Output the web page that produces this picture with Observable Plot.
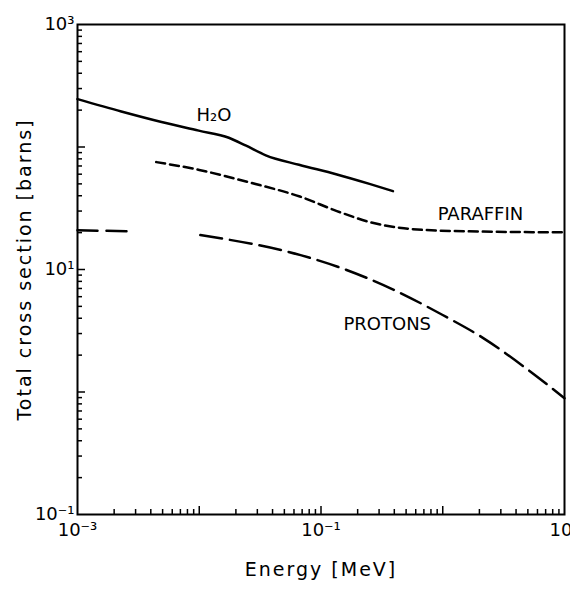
<!DOCTYPE html>
<html>
<head>
<meta charset="utf-8">
<script src="https://cdn.jsdelivr.net/npm/d3@7"></script>
<script src="https://cdn.jsdelivr.net/npm/@observablehq/plot@0.6"></script>
<style>
  html, body { margin: 0; padding: 0; background: #fff; }
  #chart { width: 570px; height: 591px; }
</style>
</head>
<body>
<div id="chart"></div>
<script>
// Energy [MeV] and total cross section [barns]
const h2oE = [0.001, 0.00229, 0.0049, 0.0099, 0.0175, 0.024, 0.0352, 0.066, 0.133, 0.25, 0.39];
const h2oS = [246, 195, 160, 136, 119, 103, 85.5, 71.6, 60, 50, 43.6];

const paraffinE = [0.00443, 0.01, 0.0258, 0.067, 0.135, 0.255, 0.48, 1.24, 10];
const paraffinS = [75.3, 65, 51.4, 39.4, 30, 24.3, 21.7, 20.6, 20.1];

const protonsLowE = [0.001, 0.0027];
const protonsLowS = [20.9, 20.5];
const protonsHighE = [0.0102, 0.068, 0.146, 0.38, 0.99, 2.12, 4.88, 10];
const protonsHighS = [19.1, 13.1, 10.3, 6.96, 4.27, 2.78, 1.55, 0.89];

const xTickValues = [0.001, 0.1, 10];
const yTickValues = [1000, 10, 0.1];
const superscripts = {"-": "\u207B", "0": "\u2070", "1": "\u00B9", "2": "\u00B2", "3": "\u00B3"};
const powerLabel = v => "10" + String(Math.round(Math.log10(v))).split("").map(c => superscripts[c]).join("");

const curveLabels = ["H\u2082O", "PARAFFIN", "PROTONS"];
const curveLabelE = [0.0132, 2.04, 0.35];
const curveLabelS = [180, 28, 3.55];

const decades = [0.001, 0.01, 0.1, 1, 10, 100];
const minorOf = (lo, hi) => decades.flatMap(d => [2,3,4,5,6,7,8,9].map(m => d * m)).filter(v => v > lo && v < hi);
const xMinor = minorOf(0.001, 10);
const xMajor = [0.01, 0.1, 1];
const yMinor = minorOf(0.1, 1000);
const yMajor = [1, 10, 100];

const toRows = (E, S) => E.map((e, i) => ({e, s: S[i]}));
const h2o = toRows(h2oE, h2oS);
const paraffin = toRows(paraffinE, paraffinS);
const protonsLow = toRows(protonsLowE, protonsLowS);
const protonsHigh = toRows(protonsHighE, protonsHighS);
const labels = curveLabels.map((t, i) => ({t, e: curveLabelE[i], s: curveLabelS[i]}));

const xTitle = "Energy [MeV]";
const yTitle = "Total cross section [barns]";

const font = "'DejaVu Sans', sans-serif";
const W = 570, H = 591, mL = 77, mR = 6, mT = 24, mB = 77;
const plotW = W - mL - mR, plotH = H - mT - mB;

const chart = Plot.plot({
  width: W,
  height: H,
  marginLeft: mL,
  marginRight: mR,
  marginTop: mT,
  marginBottom: mB,
  style: {fontFamily: font, background: "#fff"},
  x: {type: "log", domain: [0.001, 10]},
  y: {type: "log", domain: [0.1, 1000]},
  marks: [
    Plot.frame({stroke: "black", strokeWidth: 2}),
    Plot.tickX(xMinor, {x: d => d, insetTop: plotH - 5, stroke: "black", strokeWidth: 1.5}),
    Plot.tickX(xMajor, {x: d => d, insetTop: plotH - 8, stroke: "black", strokeWidth: 1.5}),
    Plot.tickY(yMinor, {y: d => d, insetRight: plotW - 5, stroke: "black", strokeWidth: 1.5}),
    Plot.tickY(yMajor, {y: d => d, insetRight: plotW - 8, stroke: "black", strokeWidth: 1.5}),
    Plot.axisX({ticks: xTickValues, tickSize: 0, tickPadding: 9, tickFormat: powerLabel, fontSize: 18, label: null}),
    Plot.axisY({ticks: yTickValues, tickSize: 0, tickPadding: 3, tickFormat: powerLabel, fontSize: 18, label: null}),
    Plot.line(h2o, {x: "e", y: "s", stroke: "black", strokeWidth: 2.5, curve: "monotone-x"}),
    Plot.line(paraffin, {x: "e", y: "s", stroke: "black", strokeWidth: 2.5, strokeDasharray: "9,5", curve: "monotone-x"}),
    Plot.line(protonsLow, {x: "e", y: "s", stroke: "black", strokeWidth: 2.5, strokeDasharray: "20,9"}),
    Plot.line(protonsHigh, {x: "e", y: "s", stroke: "black", strokeWidth: 2.5, strokeDasharray: "22,8", curve: "monotone-x"}),
    Plot.text(labels, {x: "e", y: "s", text: "t", fontSize: 18, fill: "black", textAnchor: "middle"}),
    Plot.text([xTitle], {frameAnchor: "bottom", dy: 61, fontSize: 19, fill: "black", textAnchor: "middle"}),
    Plot.text([yTitle], {frameAnchor: "left", dx: -53, rotate: -90, fontSize: 19, fill: "black", textAnchor: "middle"})
  ]
});
document.getElementById("chart").appendChild(chart);
d3.select(chart).selectAll("text")
  .filter(function() { return this.textContent === xTitle || this.textContent === yTitle; })
  .style("letter-spacing", "2px");
</script>
</body>
</html>
